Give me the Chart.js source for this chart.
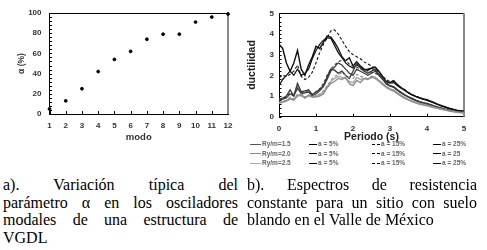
<!DOCTYPE html>
<html>
<head>
<meta charset="utf-8">
<script src="https://cdn.jsdelivr.net/npm/chart.js@4/dist/chart.umd.min.js"></script>
<style>
  html, body { margin:0; padding:0; background:#fff; }
  body { width:487px; height:250px; position:relative; overflow:hidden; }
  .box { position:absolute; }
  .leg { position:absolute; font-family:"Liberation Sans", Arial, sans-serif; font-size:6.5px; font-weight:bold; color:#666; white-space:nowrap; line-height:8px; }
  .leg i { display:inline-block; vertical-align:middle; margin-right:1px; border-top-width:1.5px; border-top-style:solid; }
  .cap { position:absolute; font-family:"Liberation Serif", "Times New Roman", serif; font-size:16px; line-height:17.7px; color:#000; }
  .cap div { white-space:nowrap; }
  .cap .j { text-align:justify; text-align-last:justify; white-space:normal; }
</style>
</head>
<body>
<div class="box" style="left:0;top:0;width:240px;height:150px;"><canvas id="c1" width="240" height="150"></canvas></div>
<div class="box" style="left:240px;top:0;width:247px;height:145px;"><canvas id="c2" width="247" height="145"></canvas></div>
<div id="legend"></div>
<div class="cap" style="left:3px;top:176px;width:235px;">
  <div class="j">a). Variación típica del</div>
  <div class="j">parámetro α en los osciladores</div>
  <div class="j">modales de una estructura de</div>
  <div>VGDL</div>
</div>
<div class="cap" style="left:247px;top:176px;width:230px;">
  <div class="j">b). Espectros de resistencia</div>
  <div class="j">constante para un sitio con suelo</div>
  <div>blando en el Valle de México</div>
</div>
<script>
// ---------- data: chart a) ----------
const modes = [1,2,3,4,5,6,7,8,9,10,11,12];
const alphaPct = [5,13,25,42,54,62,74,79,79,91,96,99];

// ---------- data: chart b) ----------
const periods = [0.0,0.1,0.2,0.3,0.4,0.5,0.6,0.7,0.8,0.9,1.0,1.1,1.2,1.3,1.4,1.5,1.6,1.7,1.8,1.9,2.0,2.1,2.2,2.3,2.4,2.5,2.6,2.7,2.8,2.9,3.0,3.1,3.2,3.3,3.4,3.5,3.6,3.7,3.8,3.9,4.0,4.1,4.2,4.3,4.4,4.5,4.6,4.7,4.8,4.9,5.0];
const ry15_a5  = [3.5,3.3,2.6,2.2,2.6,3.2,2.3,2.0,2.5,2.9, 3.4,3.3,3.6,3.9,3.85,3.6,3.3,2.9,2.7,2.85, 2.45,2.65,2.45,2.3,2.25,2.35,2.4,2.2,1.95,1.7, 1.65,1.75,1.55,1.4,1.3,1.15,1.05,0.98,0.92,0.86, 0.82,0.75,0.68,0.6,0.53,0.47,0.41,0.36,0.32,0.29, 0.27];
const ry15_a15 = [1.9,2.0,1.95,2.05,2.2,2.5,1.95,1.8,1.9,2.15, 2.6,3.1,3.5,3.8,4.15,4.2,4.0,3.7,3.4,3.15, 3.0,2.9,2.8,2.65,2.55,2.45,2.35,2.15,1.95,1.8, 1.7,1.72,1.55,1.42,1.3,1.17,1.07,0.99,0.92,0.86, 0.8,0.73,0.66,0.59,0.52,0.46,0.4,0.35,0.31,0.28, 0.26];
const ry15_a25 = [1.5,1.8,2.0,2.2,2.0,2.3,2.0,2.1,2.3,2.8, 3.2,3.5,3.7,3.8,3.8,3.45,3.1,2.85,2.6,2.45, 2.35,2.5,2.4,2.25,2.3,2.35,2.25,2.05,1.85,1.7, 1.62,1.65,1.5,1.38,1.27,1.15,1.05,0.97,0.9,0.84, 0.79,0.72,0.65,0.58,0.51,0.45,0.39,0.35,0.31,0.28, 0.26];
const ry20_a5  = [0.85,0.9,1.0,1.3,1.0,1.6,1.2,1.25,1.3,1.05, 1.2,1.3,1.5,1.9,2.3,2.25,2.1,2.2,2.0,1.85, 2.2,2.6,2.35,2.2,2.1,2.2,2.3,2.05,1.85,1.6, 1.5,1.45,1.3,1.18,1.06,0.96,0.88,0.8,0.73,0.68, 0.64,0.58,0.52,0.46,0.41,0.36,0.32,0.28,0.26,0.24, 0.23];
const ry20_a15 = [0.8,0.85,0.95,1.15,1.05,1.35,1.15,1.2,1.2,1.1, 1.2,1.35,1.6,2.0,2.3,2.5,2.65,2.75,2.7,2.55, 2.45,2.4,2.3,2.25,2.2,2.15,2.1,2.0,1.85,1.65, 1.5,1.42,1.28,1.16,1.05,0.95,0.86,0.79,0.72,0.67, 0.62,0.57,0.51,0.45,0.4,0.35,0.31,0.28,0.25,0.23, 0.22];
const ry20_a25 = [0.8,0.85,0.9,1.1,1.0,1.4,1.1,1.15,1.2,1.0, 1.1,1.25,1.45,1.8,2.2,2.4,2.6,2.5,2.3,2.1, 2.0,2.3,2.2,2.1,2.0,2.1,2.2,2.0,1.8,1.58, 1.48,1.42,1.28,1.15,1.04,0.94,0.86,0.78,0.72,0.66, 0.62,0.56,0.5,0.45,0.4,0.35,0.31,0.27,0.25,0.23, 0.22];
const ry25_a5  = [0.65,0.7,0.75,0.85,0.8,1.0,1.1,0.9,1.05,0.95, 0.95,1.0,1.1,1.4,1.6,1.7,1.85,1.8,1.9,1.6, 1.5,1.75,1.65,1.85,1.8,1.95,1.9,1.75,1.6,1.45, 1.35,1.28,1.15,1.03,0.92,0.83,0.76,0.69,0.64,0.6, 0.56,0.51,0.46,0.41,0.37,0.33,0.29,0.26,0.23,0.21, 0.2];
const ry25_a15 = [0.7,0.75,0.8,0.95,0.85,1.1,1.05,0.95,1.05,1.0, 1.05,1.1,1.25,1.5,1.75,1.95,2.05,2.1,2.0,1.9, 1.85,2.05,1.95,1.9,1.85,1.9,1.85,1.75,1.6,1.45, 1.33,1.26,1.13,1.01,0.9,0.82,0.74,0.68,0.62,0.58, 0.54,0.49,0.44,0.4,0.36,0.32,0.28,0.25,0.22,0.2, 0.19];
const ry25_a25 = [0.68,0.72,0.78,0.9,0.82,1.05,1.0,0.92,1.0,0.95, 1.0,1.05,1.2,1.45,1.7,1.85,1.95,1.9,1.85,1.7, 1.65,1.9,1.8,1.85,1.8,1.9,1.85,1.7,1.55,1.4, 1.3,1.22,1.1,0.98,0.88,0.8,0.72,0.66,0.6,0.56, 0.52,0.47,0.43,0.39,0.35,0.31,0.27,0.24,0.21,0.19, 0.18];

// legend labels
const ryLabels = ['Ry/m=1.5','Ry/m=2.0','Ry/m=2.5'];
const aLabels = [['a = 5%','a = 15%','a = 25%'],['a = 5%','a = 15%','a = 25'],['a = 5%','a = 15%','a = 25%']];

// ---------- styling ----------
const tickFont = {family:'"Liberation Sans", Arial, sans-serif', size:8, weight:'bold'};
const groupColors = ['#111111','#3a3a3a','#8f8f8f'];
const groupColorsLight = ['#111111','#3a3a3a','#a8a8a8'];

const frameTicks = {
  id:'frameTicks',
  beforeDatasetsDraw(chart, args, opts) {
    const {ctx, chartArea:a, scales:{x, y}} = chart;
    ctx.save();
    ctx.strokeStyle = '#000'; ctx.lineWidth = 1;
    ctx.beginPath();
    ctx.moveTo(a.left, Math.round(a.top)+0.5); ctx.lineTo(a.right, Math.round(a.top)+0.5);
    for (let v = y.min; v <= y.max + 1e-9; v += opts.yMinor) {
      const py = Math.round(y.getPixelForValue(v)) + 0.5;
      ctx.moveTo(a.left, py); ctx.lineTo(a.left + 2.5, py);
    }
    x.ticks.forEach(t => {
      const px = Math.round(x.getPixelForValue(t.value)) + 0.5;
      ctx.moveTo(px, a.bottom); ctx.lineTo(px, a.bottom - 3);
    });
    ctx.stroke();
    ctx.strokeStyle = '#8a8a8a'; ctx.lineWidth = 2;
    ctx.beginPath(); ctx.moveTo(a.right, a.top); ctx.lineTo(a.right, a.bottom); ctx.stroke();
    ctx.restore();
  }
};

// ---------- chart a) ----------
new Chart(document.getElementById('c1'), {
  type:'scatter',
  data:{ datasets:[{ data: modes.map((m,i)=>({x:m, y:alphaPct[i]})), backgroundColor:'#000', borderColor:'#000', pointRadius:1.4, pointHoverRadius:1.4, clip:false }] },
  options:{
    responsive:false, animation:false, events:[],
    layout:{ padding:{left:0, right:12, top:13, bottom:0} },
    plugins:{ legend:{display:false}, tooltip:{enabled:false}, frameTicks:{yMinor:4} },
    scales:{
      x:{ type:'linear', min:1, max:12,
          afterFit(s){ s.height = 36; },
          ticks:{ stepSize:1, font:tickFont, color:'#333', padding:7, maxRotation:0 },
          grid:{ display:false, drawTicks:false }, border:{ display:true, color:'#000', width:1 },
          title:{ display:true, text:'modo', font:{family:tickFont.family, size:9.5, weight:'bold'}, color:'#333', padding:{top:0, bottom:7} } },
      y:{ min:0, max:100,
          afterFit(s){ s.width = 49.5; },
          ticks:{ stepSize:20, font:tickFont, color:'#333', padding:8 },
          grid:{ display:false, drawTicks:false }, border:{ display:true, color:'#000', width:1 },
          title:{ display:true, text:'α (%)', font:{family:tickFont.family, size:8.5, weight:'bold'}, color:'#333', padding:{top:17, bottom:0} } }
    }
  },
  plugins:[frameTicks]
});

// ---------- chart b) ----------
function ds(vals, color, dashed, width) {
  return { data: periods.map((t,i)=>({x:t, y:vals[i]})), borderColor:color, borderWidth:width, borderDash: dashed ? [3,2] : [], pointRadius:0, tension:0, fill:false };
}
new Chart(document.getElementById('c2'), {
  type:'line',
  data:{ datasets:[
    ds(ry25_a5,  groupColors[2], false, 1.4),
    ds(ry25_a15, groupColors[2], true, 1.1),
    ds(ry25_a25, groupColorsLight[2], false, 1.4),
    ds(ry20_a5,  groupColors[1], false, 1.4),
    ds(ry20_a15, groupColors[1], true, 1.1),
    ds(ry20_a25, groupColors[1], false, 1.2),
    ds(ry15_a5,  groupColors[0], false, 1.4),
    ds(ry15_a15, groupColors[0], true, 1.1),
    ds(ry15_a25, groupColors[0], false, 1.2)
  ]},
  options:{
    responsive:false, animation:false, events:[],
    layout:{ padding:{left:0, right:23, top:13.3, bottom:0} },
    plugins:{ legend:{display:false}, tooltip:{enabled:false}, frameTicks:{yMinor:0.2} },
    scales:{
      x:{ type:'linear', min:0, max:5,
          afterFit(s){ s.height = 28.3; },
          ticks:{ stepSize:1, font:tickFont, color:'#333', padding:7, maxRotation:0 },
          grid:{ display:false, drawTicks:false }, border:{ display:true, color:'#000', width:1 },
          title:{ display:true, text:'Periodo (s)', font:{family:tickFont.family, size:10.5, weight:'bold'}, color:'#222', padding:{top:0, bottom:1.5} } },
      y:{ min:0, max:5,
          afterFit(s){ s.width = 39; },
          ticks:{ stepSize:1, font:tickFont, color:'#333', padding:5 },
          grid:{ display:false, drawTicks:false }, border:{ display:true, color:'#000', width:1 },
          title:{ display:true, text:'ductilidad', font:{family:tickFont.family, size:10.5, weight:'bold'}, color:'#222', padding:{top:5.7, bottom:0} } }
    }
  },
  plugins:[frameTicks]
});

// ---------- legend ----------
(function(){
  const leg = document.getElementById('legend');
  const rowY = [140, 149.7, 159];
  const rowLineColors = ['#555555','#8a8a8a','#ababab'];
  const colX = [309, 372, 433];
  ryLabels.forEach((lab, r) => {
    const d = document.createElement('div');
    d.className = 'leg';
    d.style.left = '250px'; d.style.top = rowY[r] + 'px';
    d.innerHTML = '<i style="width:11px;border-top-color:' + rowLineColors[r] + '"></i>' + lab;
    leg.appendChild(d);
    aLabels[r].forEach((al, c) => {
      const e = document.createElement('div');
      e.className = 'leg';
      e.style.left = colX[c] + 'px'; e.style.top = rowY[r] + 'px';
      const style = c === 1 ? 'width:8px;border-top-style:dashed;border-top-width:1px;border-top-color:#000' : 'width:8px;border-top-color:#000';
      e.innerHTML = '<i style="' + style + '"></i>' + al;
      leg.appendChild(e);
    });
  });
})();
</script>
</body>
</html>
